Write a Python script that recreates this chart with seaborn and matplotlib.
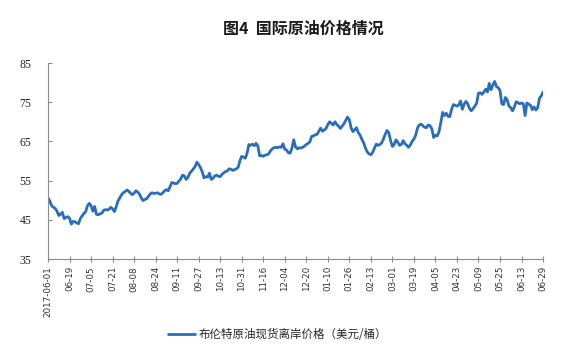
import numpy as np
import pandas as pd
import matplotlib
matplotlib.use("Agg")
import matplotlib.pyplot as plt
import seaborn as sns

# Brent spot price (USD/bbl), one value per trading day
jun17 = [50.6, 49.8, 48.6, 48.2, 47.9, 47.2, 46.1, 46.4, 46.9, 45.3, 45.6,
         45.8, 45.4, 43.9, 44.6, 44.5, 44.2, 44.0, 45.3, 46.0, 46.6, 47.1]
jul17 = [48.6, 49.2, 48.6, 47.2, 48.4, 46.4, 46.3, 46.5, 46.7, 47.4, 47.6,
         47.5, 47.7, 48.2, 47.8, 47.1, 48.3, 49.8, 50.6, 51.4, 51.9]
aug17 = [52.2, 52.6, 52.3, 51.8, 51.4, 51.8, 52.4, 52.1, 51.5, 50.6, 49.9,
         50.2, 50.4, 51.0, 51.6, 51.9, 51.7, 51.8, 51.9, 51.6, 51.5, 51.9, 52.4]
sep17 = [52.7, 52.4, 53.4, 54.5, 54.4, 54.2, 54.3, 54.9, 55.4, 56.4, 56.2,
         55.3, 55.8, 56.9, 57.4, 58.0, 58.6, 59.7, 59.1, 58.3, 57.2]
oct17 = [55.7, 56.0, 55.9, 56.9, 55.3, 55.6, 56.2, 56.4, 56.1, 56.0, 56.6,
         57.0, 57.3, 57.5, 58.0, 57.9, 57.6, 57.8, 58.0, 58.4, 60.1, 61.2]
nov17 = [61.0, 60.7, 62.0, 64.2, 64.0, 64.3, 63.9, 64.5, 63.8, 61.3, 61.4,
         61.2, 61.5, 61.6, 61.8, 62.6, 63.1, 63.4, 63.5, 63.4, 63.6, 63.5]
dec17 = [64.4, 63.0, 62.8, 62.1, 62.0, 63.3, 65.4, 63.6, 63.1, 63.4, 63.3,
         63.5, 63.8, 64.2, 64.5, 64.9, 66.3, 66.4, 66.7]
jan18 = [66.8, 67.6, 68.4, 67.6, 67.9, 68.3, 69.3, 70.0, 69.6, 69.2, 70.0,
         69.3, 68.9, 68.3, 68.9, 69.5, 70.4, 71.2, 70.5, 68.4, 67.5, 68.0]
feb18 = [68.5, 67.2, 66.6, 65.5, 64.6, 63.3, 62.3, 61.8, 61.6, 62.2, 63.3,
         64.3, 64.0, 64.2, 64.6, 65.6, 66.8, 67.8, 67.2, 65.2]
mar18 = [63.7, 64.2, 65.4, 64.8, 64.0, 64.2, 65.2, 64.4, 64.0, 63.5, 64.1,
         65.0, 65.6, 66.6, 68.4, 69.2, 69.4, 69.0, 68.6, 68.5, 69.2]
apr18 = [69.0, 68.2, 66.0, 66.6, 66.4, 67.5, 69.8, 72.4, 71.6, 72.2, 71.4,
         71.3, 73.2, 74.4, 74.2, 74.0, 74.3, 75.3, 73.2, 74.5, 75.2]
may18 = [74.6, 73.4, 72.8, 73.4, 74.0, 74.8, 77.3, 77.4, 77.0, 77.6, 78.3,
         77.6, 79.8, 78.2, 79.4, 80.3, 79.0, 78.7, 78.0, 74.6, 74.4, 76.2]
jun18 = [75.6, 74.0, 73.6, 72.8, 73.8, 75.1, 74.9, 74.6, 74.8, 74.6, 71.6,
         74.8, 74.5, 74.2, 73.1, 73.8, 73.0, 73.6, 76.0, 76.6, 77.6]

tick_labels = ["2017-06-01", "06-19", "07-05", "07-21", "08-08", "08-24",
               "09-11", "09-27", "10-13", "10-31", "11-16", "12-04", "12-20",
               "01-10", "01-26", "02-13", "03-01", "03-19", "04-05", "04-23",
               "05-09", "05-25", "06-13", "06-29"]

series_name = "布伦特原油现货离岸价格（美元/桶）"
title = "图4  国际原油价格情况"

prices = jun17 + jul17 + aug17 + sep17 + oct17 + nov17 + dec17 + jan18 + \
    feb18 + mar18 + apr18 + may18 + jun18
df = pd.DataFrame({"day": np.arange(len(prices)), "price": prices,
                   "series": series_name})

sns.set_style("white")
plt.rcParams['font.family'] = ['Noto Sans CJK SC', 'DejaVu Sans']

fig = plt.figure(figsize=(5.61, 3.57), dpi=100)
ax = fig.add_axes([0.0856, 0.2745, 0.8824, 0.549])

line_color = "#2a6ebb"
sns.lineplot(data=df, x="day", y="price", hue="series", palette=[line_color],
             linewidth=2.0, ax=ax)

ax.set_xlim(0, len(prices) - 1)
ax.set_ylim(35, 85)
ax.set_yticks([35, 45, 55, 65, 75, 85])
ax.set_xticks(np.arange(0, len(prices), 12))
ax.set_xticklabels(tick_labels, rotation=90, fontsize=6.3,
                   family=['DejaVu Sans'], color="#333333")
for lab in ax.get_yticklabels():
    lab.set_family(['Liberation Serif'])
    lab.set_fontsize(8.5)
    lab.set_color("#222222")

ax.set_xlabel("")
ax.set_ylabel("")
for s in ["top", "right"]:
    ax.spines[s].set_visible(False)
for s in ["left", "bottom"]:
    ax.spines[s].set_color("#8c8c8c")
    ax.spines[s].set_linewidth(0.8)
ax.tick_params(axis="y", direction="in", length=3, width=0.8,
               color="#8c8c8c", pad=12, left=True)
ax.tick_params(axis="x", direction="inout", length=4, width=0.8,
               color="#8c8c8c", pad=3, bottom=True)
ax.grid(False)

fig.text(0.54, 0.918, title, ha="center", va="center", fontsize=11.5,
         fontweight="bold", color="#1a1a1a")

ax.legend_.remove()
handles, labels = ax.get_legend_handles_labels()
fig.legend(handles, labels, loc="center", bbox_to_anchor=(0.495, 0.064),
           frameon=False, fontsize=8.3, handlelength=2.3, handletextpad=0.3,
           borderaxespad=0)

fig.savefig("out.png", dpi=100, facecolor="white")
